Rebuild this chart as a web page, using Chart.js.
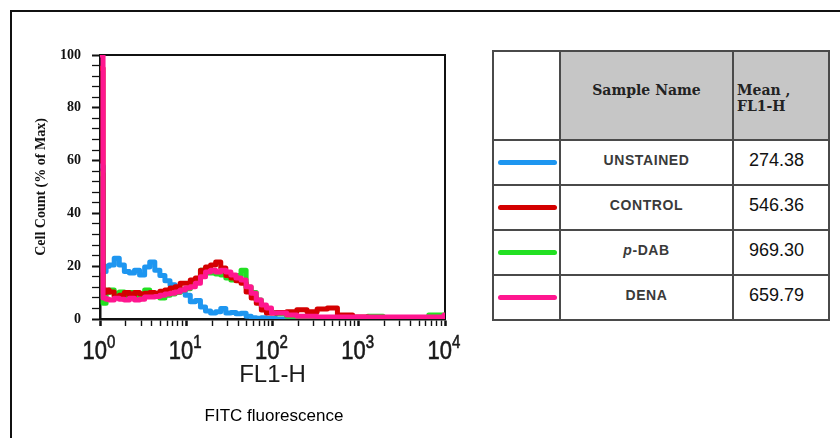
<!DOCTYPE html>
<html>
<head>
<meta charset="utf-8">
<script src="https://cdn.jsdelivr.net/npm/chart.js@4.4.1/dist/chart.umd.min.js"></script>
<style>
  html, body { margin: 0; padding: 0; background: #fff; }
  body { width: 840px; height: 438px; position: relative; overflow: hidden; }
  #frame { position: absolute; left: 10px; top: 10px; right: 0; bottom: 0;
    border-top: 2px solid #111; border-left: 2px solid #111; }
  #plot { position: absolute; left: 0; top: 0; width: 480px; height: 438px; }
  #caption { position: absolute; left: 174px; top: 406px; width: 200px; text-align: center;
    font: 17px "Liberation Sans", Arial, sans-serif; color: #000; line-height: 20px; }
  #stats { position: absolute; left: 492px; top: 50px; width: 336px; border-collapse: collapse;
    table-layout: fixed; }
  #stats td { border: 2px solid #4a4a4a; padding: 0; }
  #stats .head td { height: 89px; vertical-align: top; padding-top: 30px; box-sizing: border-box;
    font: bold 14px "DejaVu Serif", serif; color: #222; line-height: 16px; }
  #stats .head .grey { background: #c6c6c6; }
  #stats .head .nm { text-align: center; }
  #stats .head .mean { padding-left: 3px; }
  #stats .row td { height: 45px; vertical-align: middle; padding-bottom: 5px; box-sizing: border-box; }
  #stats .name { text-align: center; font: bold 14px "Liberation Sans", Arial, sans-serif;
    color: #3a3a3a; letter-spacing: 0.6px; }
  #stats .val { padding-left: 15px !important; font: 18px "Liberation Sans", Arial, sans-serif; color: #111; }
  #stats .swatch { display: block; width: 59px; height: 5px; border-radius: 3px; margin-left: 4px; margin-top: 5px; }
</style>
</head>
<body>
<div id="frame"></div>
<div id="plot"><canvas id="histChart"></canvas></div>
<div id="caption">FITC fluorescence</div>
<table id="stats">
  <colgroup><col style="width:67px"><col style="width:173px"><col style="width:96px"></colgroup>
  <tbody id="statsBody">
    <tr class="head"><td></td><td class="grey nm">Sample Name</td><td class="grey mean">Mean ,<br>FL1-H</td></tr>
  </tbody>
</table>
<script>
// FL1-H channel positions (log axis) and histogram heights (% of max)
const fl1Channels = [1.00, 1.027, 1.085, 1.177, 1.276, 1.461, 1.673, 1.916, 2.194, 2.512,
  2.876, 3.293, 3.771, 4.318, 4.944, 5.661, 6.482, 7.422, 8.498, 9.731,
  11.14, 12.76, 14.61, 16.73, 19.16, 21.94, 25.12, 28.76, 32.93, 37.71,
  43.18, 49.44, 56.61, 64.82, 74.22, 84.98, 97.31, 111.4, 146.1, 191.6,
  251.2, 329.3, 431.8, 566.1, 849.8, 1276, 1916, 2876, 4318, 6482, 9731];

const unstained = [58, 58, 18, 20, 20.5, 23, 20.5, 18, 17.4, 18.5,
  16.7, 19.7, 21.6, 18.5, 16.5, 14.5, 13, 11.5, 10.5, 9,
  6.5, 7, 4.5, 3, 2.3, 2.7, 4, 2.3, 2.5, 2,
  2.2, 1, 0.5, 0.3, 0.5, 0.3, 0.2, 0, 0, 0,
  0, 0, 0, 0, 0, 0, 0, 0, 0, 0, 0];

const control = [95, 95, 10, 11, 10.2, 8.3, 9, 10, 9, 10,
  9.5, 9.8, 10, 9.8, 10.5, 11, 11.7, 12.2, 13.5, 13.5,
  14.8, 15.5, 18.5, 19.7, 20.5, 21.6, 19.3, 16.5, 15.5, 14.5,
  13.5, 10.2, 8, 6, 3.4, 2.3, 2.3, 2.5, 2.7, 3.5,
  2.7, 3.8, 4.2, 1.5, 0.8, 0.5, 0.5, 0.4, 0.4, 0.4, 0.5];

const pDab = [55, 55, 6, 10, 11, 9, 10.2, 8.3, 10, 8.5,
  9.5, 11, 9.8, 9, 8, 9, 9.5, 10, 11, 11.5,
  13.5, 14.5, 18.5, 17.4, 17.4, 17, 16.7, 15.5, 14.8, 16.5,
  18.5, 12, 10, 7.2, 4.5, 3.4, 2.5, 2, 1, 0.8,
  0.8, 0.6, 0.5, 0.5, 0.5, 1, 0.5, 0.5, 0.5, 1.5, 1.5];

const dena = [100, 100, 8, 7.5, 7.2, 7.9, 7.5, 7.2, 7.9, 7.2,
  7.5, 8.3, 8.3, 8.5, 9, 9.5, 9.8, 10.2, 11, 11.7,
  12.2, 13.5, 16, 17.8, 18.5, 17.8, 18.5, 17.8, 16.7, 15.5,
  14.8, 12.2, 9.8, 7.2, 5.3, 4.2, 2.3, 2.3, 1.5, 1,
  1, 0.8, 0.8, 0.8, 0.8, 0.8, 0.8, 0.8, 0.8, 0.8, 1.5];

const sampleNames = ["UNSTAINED", "CONTROL", "p-DAB", "DENA"];
const meanFL1 = ["274.38", "546.36", "969.30", "659.79"];
const seriesColors = ["#1e96f0", "#d40000", "#22e022", "#ff168f"];
const seriesData = [unstained, control, pDab, dena];
const drawOrder = [3, 1, 2, 0]; // DENA on top

const xTickValues = [1, 10, 100, 1000, 10000];
const xTickExponents = ["0", "1", "2", "3", "4"];
const yLabelEvery = 20;

// table on the right
const body = document.getElementById("statsBody");
sampleNames.forEach((name, i) => {
  const tr = document.createElement("tr");
  tr.className = "row";
  tr.innerHTML = '<td><span class="swatch" style="background:' + seriesColors[i] + '"></span></td>' +
    '<td class="name">' + name.replace(/^p-/, "<i>p</i>-") + '</td>' +
    '<td class="val">' + meanFL1[i] + '</td>';
  body.appendChild(tr);
});

function isDecade(v) {
  const r = v / Math.pow(10, Math.floor(Math.log10(v) + 1e-9));
  return Math.abs(r - 1) < 1e-6;
}

const plotFrame = {
  id: "plotFrame",
  beforeDatasetsDraw(chart) {
    const { ctx, chartArea: a } = chart;
    ctx.save();
    ctx.strokeStyle = "#111";
    ctx.lineWidth = 2;
    ctx.beginPath();
    ctx.moveTo(a.left, a.top);
    ctx.lineTo(a.right, a.top);
    ctx.lineTo(a.right, a.bottom);
    ctx.stroke();
    ctx.restore();
  }
};

// "10^n" labels with superscript exponents
const decadeLabels = {
  id: "decadeLabels",
  afterDraw(chart) {
    const { ctx, scales: { x } } = chart;
    const baseFont = '22px "Liberation Sans", Arial, sans-serif';
    const expFont = '15px "Liberation Sans", Arial, sans-serif';
    ctx.save();
    ctx.fillStyle = "#1a1a1a";
    ctx.strokeStyle = "#1a1a1a";
    ctx.lineWidth = 0.5;
    ctx.textBaseline = "alphabetic";
    ctx.textAlign = "left";
    xTickValues.forEach((v, i) => {
      const px = x.getPixelForValue(v);
      ctx.font = baseFont;
      const wb = ctx.measureText("10").width;
      ctx.font = expFont;
      const we = ctx.measureText(xTickExponents[i]).width;
      const left = px - (wb + we) / 2 - 1;
      ctx.save();
      ctx.translate(left, x.top + 40);
      ctx.scale(1, 1.2);
      ctx.font = baseFont;
      ctx.fillText("10", 0, 0);
      ctx.strokeText("10", 0, 0);
      ctx.font = expFont;
      ctx.fillText(xTickExponents[i], wb, -9.5);
      ctx.strokeText(xTickExponents[i], wb, -9.5);
      ctx.restore();
    });
    ctx.restore();
  }
};

const ctx = document.getElementById("histChart").getContext("2d");

new Chart(ctx, {
  type: "line",
  data: {
    datasets: sampleNames.map((name, i) => ({
      label: name,
      data: seriesData[i].map((y, j) => ({ x: fl1Channels[j], y: y })),
      borderColor: seriesColors[i],
      backgroundColor: seriesColors[i],
      borderWidth: 5,
      borderJoinStyle: "round",
      borderCapStyle: "round",
      stepped: true,
      pointRadius: 0,
      fill: false,
      order: drawOrder[i]
    }))
  },
  options: {
    responsive: true,
    maintainAspectRatio: false,
    animation: false,
    events: [],
    layout: { padding: { top: 55, left: 20, right: 35, bottom: 0 } },
    plugins: {
      legend: { display: false },
      tooltip: { enabled: false }
    },
    scales: {
      x: {
        type: "logarithmic",
        min: 1,
        max: 10000,
        afterFit(s) { s.height = 119; },
        afterBuildTicks(s) { s.ticks = s.ticks.filter(t => Number.isInteger(Math.round(t.value / Math.pow(10, Math.floor(Math.log10(t.value) + 1e-9)) * 1000) / 1000)); },
        grid: {
          drawOnChartArea: false,
          tickLength: 7,
          tickColor: "#111",
          tickWidth: c => (c.tick && isDecade(c.tick.value) ? 2.5 : 1.4)
        },
        border: { color: "#111", width: 2.5 },
        ticks: { display: false },
        title: {
          display: true,
          text: "FL1-H",
          color: "#1a1a1a",
          font: { family: '"Liberation Sans", Arial, sans-serif', size: 24 },
          padding: { top: 0, bottom: 48 }
        }
      },
      y: {
        min: 0,
        max: 100,
        afterFit(s) { s.width = 80; },
        grid: {
          drawOnChartArea: false,
          tickLength: 8,
          tickColor: "#111",
          tickWidth: c => (c.tick && c.tick.value % yLabelEvery === 0 ? 2 : 1.3)
        },
        border: { color: "#111", width: 2.5 },
        ticks: {
          stepSize: 4,
          autoSkip: false,
          padding: 11,
          color: "#111",
          font: { family: '"Liberation Serif", "Times New Roman", serif', size: 14, weight: "bold" },
          callback: v => (v % yLabelEvery === 0 ? v : "")
        },
        title: {
          display: true,
          text: "Cell Count (% of Max)",
          color: "#111",
          font: { family: '"Liberation Serif", "Times New Roman", serif', size: 14, weight: "bold" },
          padding: { top: 13, bottom: 0 }
        }
      }
    }
  },
  plugins: [plotFrame, decadeLabels]
});
</script>
</body>
</html>
